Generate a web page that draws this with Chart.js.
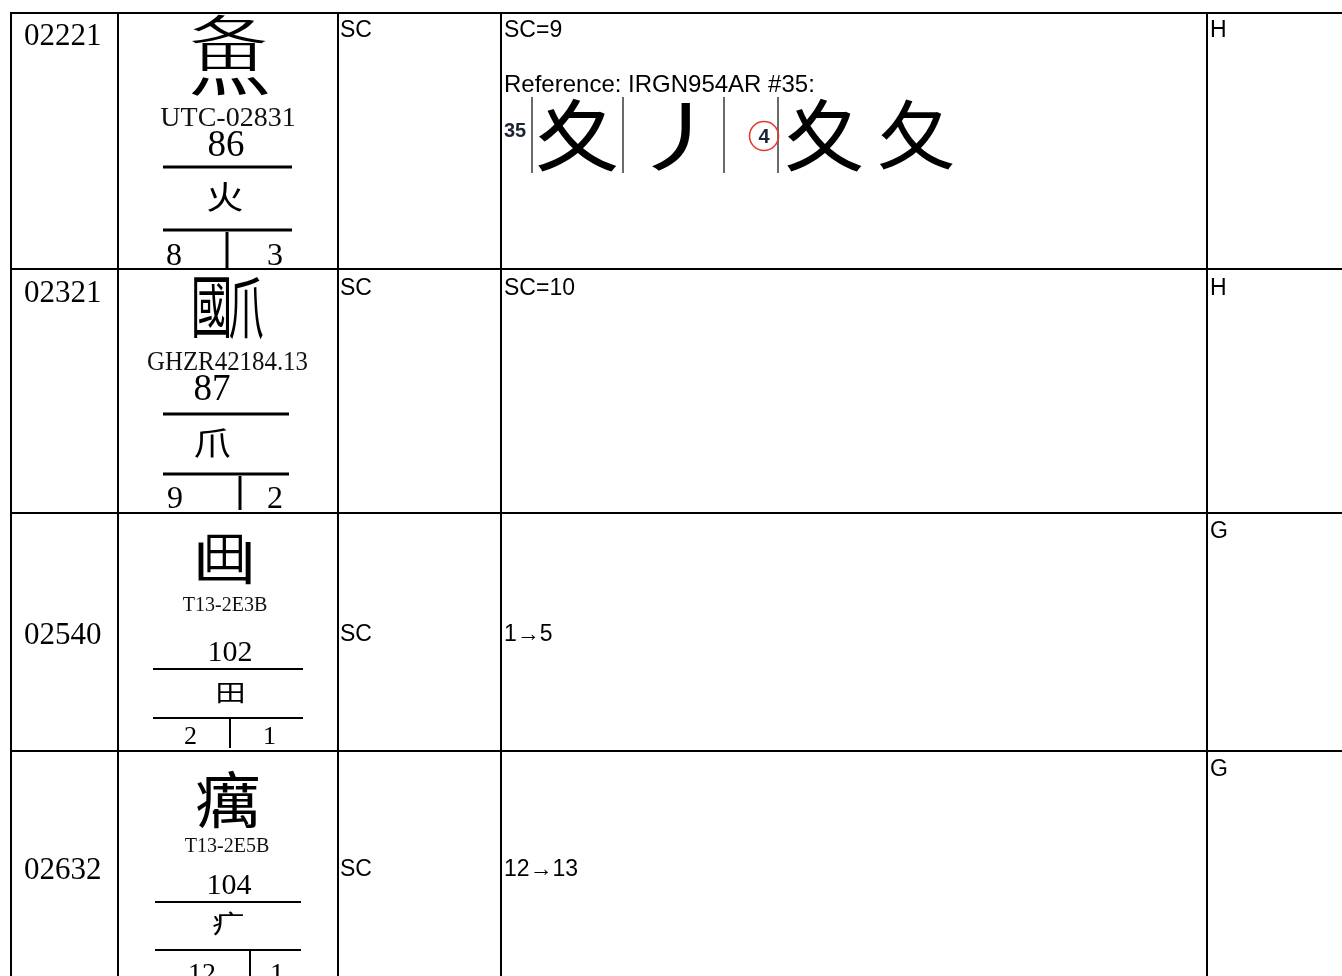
<!DOCTYPE html>
<html><head><meta charset="utf-8">
<script src="https://cdn.jsdelivr.net/npm/chart.js@4.4.1/dist/chart.umd.min.js"></script>
<style>html,body{margin:0;padding:0;background:#fff;}#wrap{width:1342px;height:976px;}</style>
</head><body><div id="wrap"><canvas id="c" width="1342" height="976"></canvas></div>
<script>
// ---------- data ----------
const serialNumbers = ['02221', '02321', '02540', '02632'];
const glyphComponents = [['夂', '田', '灬'], ['國', '爪'], ['凵', '田'], ['癘']];
const sourceReferences = ['UTC-02831', 'GHZR42184.13', 'T13-2E3B', 'T13-2E5B'];
const radicalNumbers = ['86', '87', '102', '104'];
const radicalGlyphs = ['火', '爪', '田', '疒'];
const strokeCounts = ['8', '9', '2', '12'];
const firstStrokes = ['3', '2', '1', '1'];
const commentTypes = ['SC', 'SC', 'SC', 'SC'];
const commentTexts = ['SC=9', 'SC=10', '1→5', '12→13'];
const commentReferences = ['Reference: IRGN954AR #35:', '', '', ''];
const referenceEntryNo = '35';
const referenceGlyphs = ['夊', '丿', '', '夊', '夂'];
const referenceStepLabel = '4';
const sourceGroups = ['H', 'H', 'G', 'G'];

// ---------- layout (positions / sizes / styles) ----------
const L = {
  colEdges: [11, 118, 338, 501, 1207],
  rowEdges: [13, 269, 513, 751],
  rightEdge: 1342, bottomEdge: 1000,
  serif: '"Liberation Serif", "Times New Roman", serif',
  sans: '"Liberation Sans", Arial, sans-serif',
  cjk: '"Noto Sans CJK TC", "Noto Sans CJK SC", sans-serif',
  sansSize: 23,
  refSize: 24,
  serialBase: [45, 302, 644, 879],
  textBase: [37, 295, 641, 876],
  groupBase: [37, 295, 538, 776],
  glyphBoxes: [
    [[192, 15, 266, 43], [202, 44, 255, 71], [191, 77, 268, 96]],
    [[194, 277, 229, 338], [230, 277, 263, 340]],
    [[198, 542, 251, 584], [207, 535, 242, 573]],
    [[197, 771, 258, 829]]
  ],
  sourceText: [[228, 126, 136, 28], [227.5, 370, 161, 28], [225, 611, 90, 20], [227, 852, 90, 20]],
  radNum: [[226, 156, 37], [212, 400, 37], [230, 661, 30], [229, 894, 30]],
  radBoxes: [[208, 182, 242, 212], [195, 428, 230, 458], [218, 683, 243, 703], [213, 912, 243, 935]],
  rules: [
    [[163, 292, 167, 3], [163, 292, 230, 3], [227, 232, 268, 3]],
    [[163, 289, 414, 3], [163, 289, 474, 3], [240, 476, 510, 3]],
    [[153, 303, 669, 2], [153, 303, 718, 2], [230, 719, 748, 2]],
    [[155, 301, 902, 2], [155, 301, 950, 2], [250, 951, 976, 2]]
  ],
  strokes: [[166, 267, 265, 32], [167, 267, 508, 32], [184, 263, 744, 26], [188, 270, 982, 28]],
  refBase: 92,
  refImg: {
    noX: 504, noBase: 137,
    seps: [532, 623, 724, 778], sepY: [97, 173],
    boxes: [[538, 98, 617, 172], [652, 102, 690, 170], null, [787, 98, 862, 172], [880, 100, 953, 170]],
    circle: [764, 136, 14.5]
  }
};

const tablePlugin = {
  id: 'tableSheet',
  afterDraw(chart) {
    const ctx = chart.ctx;
    const xs = chart.scales.x, ys = chart.scales.y;
    const X = v => xs.getPixelForValue(v);
    const Y = v => ys.getPixelForValue(v);
    ctx.save();
    ctx.fillStyle = '#000';
    ctx.strokeStyle = '#000';

    function line(x0, y0, x1, y1, w, col) {
      ctx.beginPath();
      ctx.lineWidth = w;
      ctx.strokeStyle = col || '#000';
      ctx.moveTo(X(x0), Y(y0));
      ctx.lineTo(X(x1), Y(y1));
      ctx.stroke();
    }
    function text(str, x, y, font, align, maxW, col) {
      ctx.font = font;
      ctx.textAlign = align || 'left';
      ctx.textBaseline = 'alphabetic';
      ctx.fillStyle = col || '#000';
      if (maxW) ctx.fillText(str, X(x), Y(y), maxW); else ctx.fillText(str, X(x), Y(y));
    }
    function fit(ch, box, col) {
      const [x0, y0, x1, y1] = box;
      ctx.save();
      ctx.font = '100px ' + L.cjk;
      ctx.textAlign = 'left';
      ctx.textBaseline = 'alphabetic';
      const m = ctx.measureText(ch);
      const iw = m.actualBoundingBoxLeft + m.actualBoundingBoxRight;
      const ih = m.actualBoundingBoxAscent + m.actualBoundingBoxDescent;
      ctx.translate(X(x0), Y(y0));
      ctx.scale((X(x1) - X(x0)) / iw, (Y(y1) - Y(y0)) / ih);
      ctx.fillStyle = col || '#000';
      ctx.fillText(ch, m.actualBoundingBoxLeft, m.actualBoundingBoxAscent);
      ctx.restore();
    }

    const sansFont = L.sansSize + 'px ' + L.sans;

    // table grid
    const top = L.rowEdges[0];
    L.colEdges.forEach(cx => line(cx, top - 1, cx, L.bottomEdge, 2));
    L.rowEdges.forEach(ry => line(L.colEdges[0] - 1, ry, L.rightEdge, ry, 2));

    for (let r = 0; r < serialNumbers.length; r++) {
      text(serialNumbers[r], 24, L.serialBase[r], '31px ' + L.serif);
      glyphComponents[r].forEach((ch, i) => fit(ch, L.glyphBoxes[r][i]));
      const s = L.sourceText[r];
      text(sourceReferences[r], s[0], s[1], s[3] + 'px ' + L.serif, 'center', s[2], '#111');
      const n = L.radNum[r];
      text(radicalNumbers[r], n[0], n[1], n[2] + 'px ' + L.serif, 'center');
      L.rules[r].forEach((ru, i) => {
        if (i < 2) line(ru[0], ru[2], ru[1], ru[2], ru[3]);
        else line(ru[0], ru[1], ru[0], ru[2], ru[3]);
      });
      fit(radicalGlyphs[r], L.radBoxes[r]);
      const st = L.strokes[r];
      text(strokeCounts[r], st[0], st[2], st[3] + 'px ' + L.serif);
      text(firstStrokes[r], st[1], st[2], st[3] + 'px ' + L.serif);
      text(commentTypes[r], 340, L.textBase[r], sansFont);
      text(commentTexts[r], 504, L.textBase[r], sansFont);
      if (commentReferences[r]) text(commentReferences[r], 504, L.refBase, L.refSize + 'px ' + L.sans);
      text(sourceGroups[r], 1210, L.groupBase[r], sansFont);
    }

    // embedded reference excerpt
    const ri = L.refImg;
    text(referenceEntryNo, ri.noX, ri.noBase, 'bold 20px ' + L.sans, 'left', null, '#1c2333');
    ri.seps.forEach(sx => line(sx, ri.sepY[0], sx, ri.sepY[1], 2, '#6a6a6a'));
    referenceGlyphs.forEach((g, i) => { if (g && ri.boxes[i]) fit(g, ri.boxes[i]); });
    const [ccx, ccy, cr] = ri.circle;
    ctx.beginPath();
    ctx.lineWidth = 1.6;
    ctx.strokeStyle = '#e53935';
    ctx.arc(X(ccx), Y(ccy), cr, 0, Math.PI * 2);
    ctx.stroke();
    text(referenceStepLabel, ccx, ccy + 7, 'bold 20px ' + L.sans, 'center', null, '#1c2333');
    ctx.restore();
  }
};

new Chart(document.getElementById('c'), {
  type: 'scatter',
  data: { datasets: [] },
  options: {
    responsive: false,
    animation: false,
    layout: { padding: 0 },
    plugins: { legend: { display: false }, tooltip: { enabled: false } },
    scales: {
      x: { type: 'linear', min: 0, max: 1342, display: false },
      y: { type: 'linear', min: 0, max: 976, reverse: true, display: false }
    }
  },
  plugins: [tablePlugin]
});
</script>
</body></html>
